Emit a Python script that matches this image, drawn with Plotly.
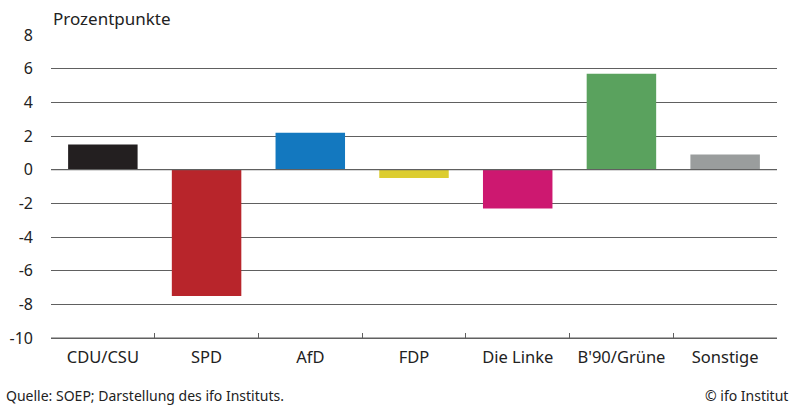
import plotly.graph_objects as go

categories = ["CDU/CSU", "SPD", "AfD", "FDP", "Die Linke", "B'90/Grüne", "Sonstige"]
values = [1.5, -7.5, 2.2, -0.5, -2.3, 5.7, 0.9]
colors = ["#231f20", "#b8252b", "#1378bf", "#dccd30", "#cd1870", "#5aa25e", "#9a9d9d"]
yticks = [-10, -8, -6, -4, -2, 0, 2, 4, 6, 8]

font = "Noto Sans"
gridc = "#606060"

fig = go.Figure(go.Bar(x=categories, y=values, marker_color=colors, marker_line_width=0, width=0.67))

fig.update_layout(
    width=792, height=405,
    margin=dict(l=51, r=15, t=35, b=67, autoexpand=False),
    plot_bgcolor="white", paper_bgcolor="white",
    font=dict(family=font, size=16, color="#222222"),
    showlegend=False,
)
fig.update_yaxes(
    range=[-10, 8], tickvals=yticks, ticktext=[str(v) for v in yticks],
    showgrid=True, gridcolor=gridc, gridwidth=1.2,
    zeroline=False, showline=False, ticks="", ticklabelstandoff=17,
    automargin=False, tickfont=dict(size=16),
)
fig.update_xaxes(
    showline=True, linecolor=gridc, linewidth=1.2,
    ticks="inside", tickson="boundaries", ticklen=5, tickcolor=gridc, tickwidth=1.2,
    showgrid=False, tickfont=dict(size=16.5), automargin=False, ticklabelstandoff=4,
)
fig.add_shape(type="line", xref="paper", yref="y", x0=0, x1=1, y0=-10, y1=-10,
              line=dict(color=gridc, width=1.2))
fig.add_shape(type="line", xref="paper", yref="y", x0=0, x1=1, y0=0, y1=0,
              line=dict(color=gridc, width=1.2), layer="above")
fig.add_annotation(text="Prozentpunkte", xref="paper", yref="paper", x=0, y=1,
                   xanchor="left", yanchor="bottom", yshift=3, showarrow=False,
                   font=dict(size=17))
fig.add_annotation(text="Quelle: SOEP; Darstellung des ifo Instituts.", xref="paper", yref="paper",
                   x=-47 / 726, y=-57 / 303, xanchor="left", yanchor="middle",
                   showarrow=False, font=dict(size=14))
fig.add_annotation(text="© ifo Institut", xref="paper", yref="paper",
                   x=1 + 13 / 726, y=-57 / 303, xanchor="right", yanchor="middle",
                   showarrow=False, font=dict(size=14))

fig.write_html("out.html", config={"displayModeBar": False},
               post_script="document.body.style.margin='0';")
